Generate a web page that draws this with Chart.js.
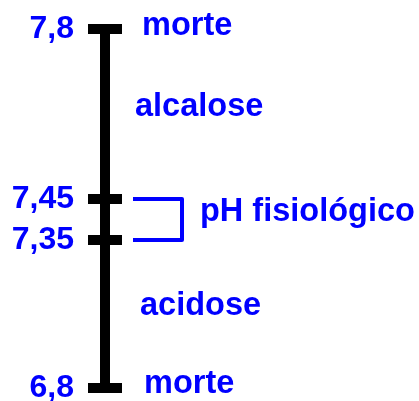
<!DOCTYPE html>
<html><head><meta charset="utf-8">
<script src="https://cdn.jsdelivr.net/npm/chart.js@4.4.1/dist/chart.umd.min.js"></script>
<style>html,body{margin:0;padding:0;background:#fff;overflow:hidden}</style>
</head><body>
<canvas id="c" width="419" height="401"></canvas>
<script>
// ---- data ----
const phMarks = [7.8, 7.45, 7.35, 6.8];
const phLabels = ['7,8', '7,45', '7,35', '6,8'];
const zoneTexts = ['morte', 'alcalose', 'pH fisiológico', 'acidose', 'morte'];
const zonePh = [7.8, 7.639, 7.418, 7.105, 6.8];
const bracketPh = [7.45, 7.45, 7.35, 7.35];

// ---- schematic (non-proportional) pH scale ----
const scaleSpacing = [148, 41, 170]; // relative heights of segments, bottom to top
class SchematicScale extends Chart.LinearScale {
  _stops() { return phMarks.slice().sort((a, b) => a - b); }
  _decimalFor(v) {
    const s = this._stops();
    const total = scaleSpacing.reduce((a, b) => a + b, 0);
    let acc = 0, i = 0;
    while (i < s.length - 2 && v > s[i + 1]) { acc += scaleSpacing[i]; i++; }
    const t = (v - s[i]) / (s[i + 1] - s[i]);
    return (acc + t * scaleSpacing[i]) / total;
  }
  getPixelForValue(v) {
    if (v === null || v === undefined) return NaN;
    return this.getPixelForDecimal(this._decimalFor(v));
  }
  getValueForPixel(p) {
    const d = this.getDecimalForPixel(p);
    const s = this._stops();
    const total = scaleSpacing.reduce((a, b) => a + b, 0);
    let target = d * total, i = 0;
    while (i < s.length - 2 && target > scaleSpacing[i]) { target -= scaleSpacing[i]; i++; }
    return s[i] + (target / scaleSpacing[i]) * (s[i + 1] - s[i]);
  }
  _calculatePadding() {
    this.paddingLeft = 0; this.paddingRight = 0; this.paddingTop = 0; this.paddingBottom = 0;
  }
}
SchematicScale.id = 'schematic';
Chart.register(SchematicScale);

const BLUE = '#0000ff';
const FONT = "'Liberation Sans', Arial, sans-serif";

const zoneTextPlugin = {
  id: 'zoneText',
  afterDatasetsDraw(chart, args, opts) {
    const { ctx, scales: { x, y } } = chart;
    ctx.save();
    ctx.fillStyle = BLUE;
    ctx.font = 'bold 32.5px ' + FONT;
    ctx.textAlign = 'left';
    ctx.textBaseline = 'middle';
    zoneTexts.forEach((t, i) => {
      const o = opts.placement[i];
      ctx.fillText(t, x.getPixelForValue(o.x), y.getPixelForValue(zonePh[i]) + o.dy);
    });
    ctx.restore();
  }
};

new Chart(document.getElementById('c'), {
  type: 'scatter',
  data: {
    datasets: [
      {
        data: phMarks.map(v => ({ x: 0, y: v })),
        showLine: true,
        borderColor: '#000',
        borderWidth: 10,
        borderCapStyle: 'butt',
        pointStyle: 'line',
        pointRadius: 17,
        pointBorderWidth: 10,
        pointBorderColor: '#000',
        pointBackgroundColor: '#000',
        clip: false
      },
      {
        data: bracketPh.map((v, i) => ({ x: i === 0 || i === 3 ? 28 : 77, y: v })),
        showLine: true,
        borderColor: BLUE,
        borderWidth: 4,
        borderJoinStyle: 'round',
        pointRadius: 0,
        clip: false
      }
    ]
  },
  options: {
    responsive: false,
    animation: false,
    events: [],
    layout: { autoPadding: false, padding: { top: 29, bottom: 13, left: 10, right: 0 } },
    plugins: {
      legend: { display: false },
      tooltip: { enabled: false },
      zoneText: {
        placement: [
          { x: 37, dy: -3 },
          { x: 30, dy: 0 },
          { x: 95, dy: 0 },
          { x: 35, dy: 0 },
          { x: 39, dy: -4 }
        ]
      }
    },
    scales: {
      x: { type: 'linear', min: -25, max: 314, display: false },
      y: {
        type: 'schematic',
        min: 6.8,
        max: 7.8,
        afterBuildTicks: s => { s.ticks = phMarks.map(v => ({ value: v })); },
        afterFit: s => { s.width = 70; },
        grid: { display: false, drawTicks: false },
        border: { display: false },
        ticks: {
          autoSkip: false,
          padding: 6,
          labelOffset: 0,
          color: BLUE,
          font: { family: FONT, size: 32, weight: 'bold' },
          callback: v => phLabels[phMarks.indexOf(v)]
        }
      }
    }
  },
  plugins: [zoneTextPlugin]
});
</script>
</body></html>
